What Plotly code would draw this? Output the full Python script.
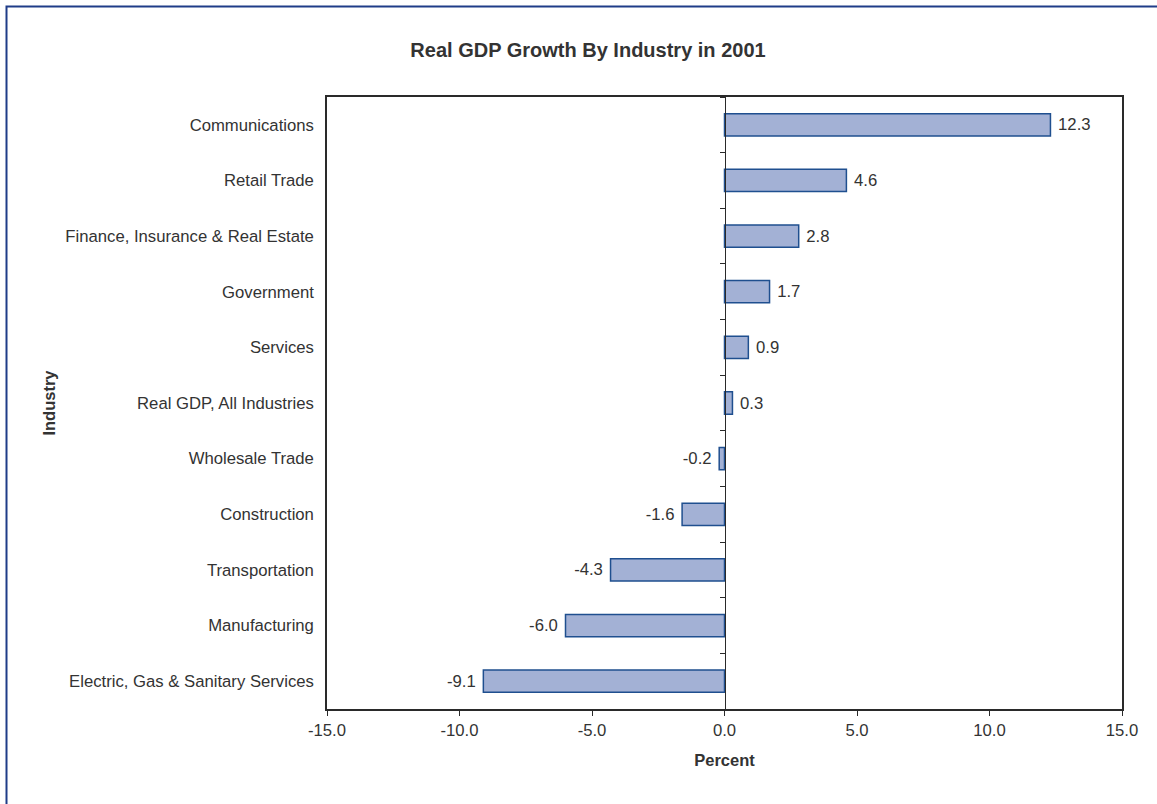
import plotly.graph_objects as go

industries = [
    "Communications",
    "Retail Trade",
    "Finance, Insurance & Real Estate",
    "Government",
    "Services",
    "Real GDP, All Industries",
    "Wholesale Trade",
    "Construction",
    "Transportation",
    "Manufacturing",
    "Electric, Gas & Sanitary Services",
]
growth = [12.3, 4.6, 2.8, 1.7, 0.9, 0.3, -0.2, -1.6, -4.3, -6.0, -9.1]
x_ticks = [-15, -10, -5, 0, 5, 10, 15]

FONT = "Liberation Sans, Arial, sans-serif"
TXT = "#333333"
AX = "#2a2a2a"
FS = 16.7
NB = "\u00a0"

labels = [(NB + f"{v:.1f}") if v >= 0 else (f"{v:.1f}" + NB) for v in growth]

fig = go.Figure()
fig.add_trace(go.Bar(
    x=growth, y=industries, orientation="h",
    marker=dict(color="#A3B1D5", line=dict(color="#1F4F8F", width=1.5)),
    width=0.4,
    text=labels, textposition="outside",
    textfont=dict(family=FONT, size=FS, color=TXT),
    cliponaxis=False, hoverinfo="x+y",
))
fig.add_trace(go.Scatter(
    x=[0] * len(industries), y=industries, yaxis="y2", mode="markers",
    marker=dict(opacity=0), hoverinfo="skip", showlegend=False,
))

fig.update_layout(
    width=1157, height=804,
    margin=dict(l=327, r=35, t=97, b=95),
    paper_bgcolor="white", plot_bgcolor="white",
    showlegend=False,
    font=dict(family=FONT, size=FS, color=TXT),
    title=dict(text="<b>Real GDP Growth By Industry in 2001</b>",
               x=588 / 1157, xref="container", xanchor="center",
               y=1 - 50 / 804, yref="container", yanchor="middle",
               font=dict(family=FONT, size=20, color=TXT)),
    xaxis=dict(range=[-15, 15], tickvals=x_ticks,
               ticktext=[f"{v:.1f}" for v in x_ticks],
               ticks="outside", ticklen=5, tickcolor=AX, tickwidth=1,
               showline=True, linecolor=AX, linewidth=1.5, mirror=True,
               showgrid=False, zeroline=False,
               tickfont=dict(family=FONT, size=FS, color=TXT),
               title=dict(text="<b>Percent</b>", standoff=16,
                          font=dict(family=FONT, size=16.5, color=TXT))),
    yaxis=dict(type="category", range=[10.5, -0.5],
               showline=True, linecolor=AX, linewidth=1.5, mirror=True,
               ticks="", showgrid=False, zeroline=False,
               ticklabelstandoff=8,
               tickfont=dict(family=FONT, size=FS, color=TXT),
               title=dict(text="<b>Industry</b>", standoff=6,
                          font=dict(family=FONT, size=16.5, color=TXT))),
    yaxis2=dict(type="category", range=[10.5, -0.5], overlaying="y",
                anchor="free", position=0.5, side="left",
                showline=True, linecolor=AX, linewidth=1,
                ticks="outside", tickson="boundaries", ticklen=5,
                tickcolor=AX, showticklabels=False, showgrid=False,
                zeroline=False),
)

# outer frame (extends past the right and bottom edges like the reference)
fig.add_shape(type="rect", xref="paper", yref="paper",
              x0=(6.5 - 327) / 795, x1=1.2,
              y0=-0.3, y1=(709 - 6.5) / 612,
              line=dict(color="#1F3C88", width=2), fillcolor="rgba(0,0,0,0)",
              layer="above")

fig.write_html("out.html")
